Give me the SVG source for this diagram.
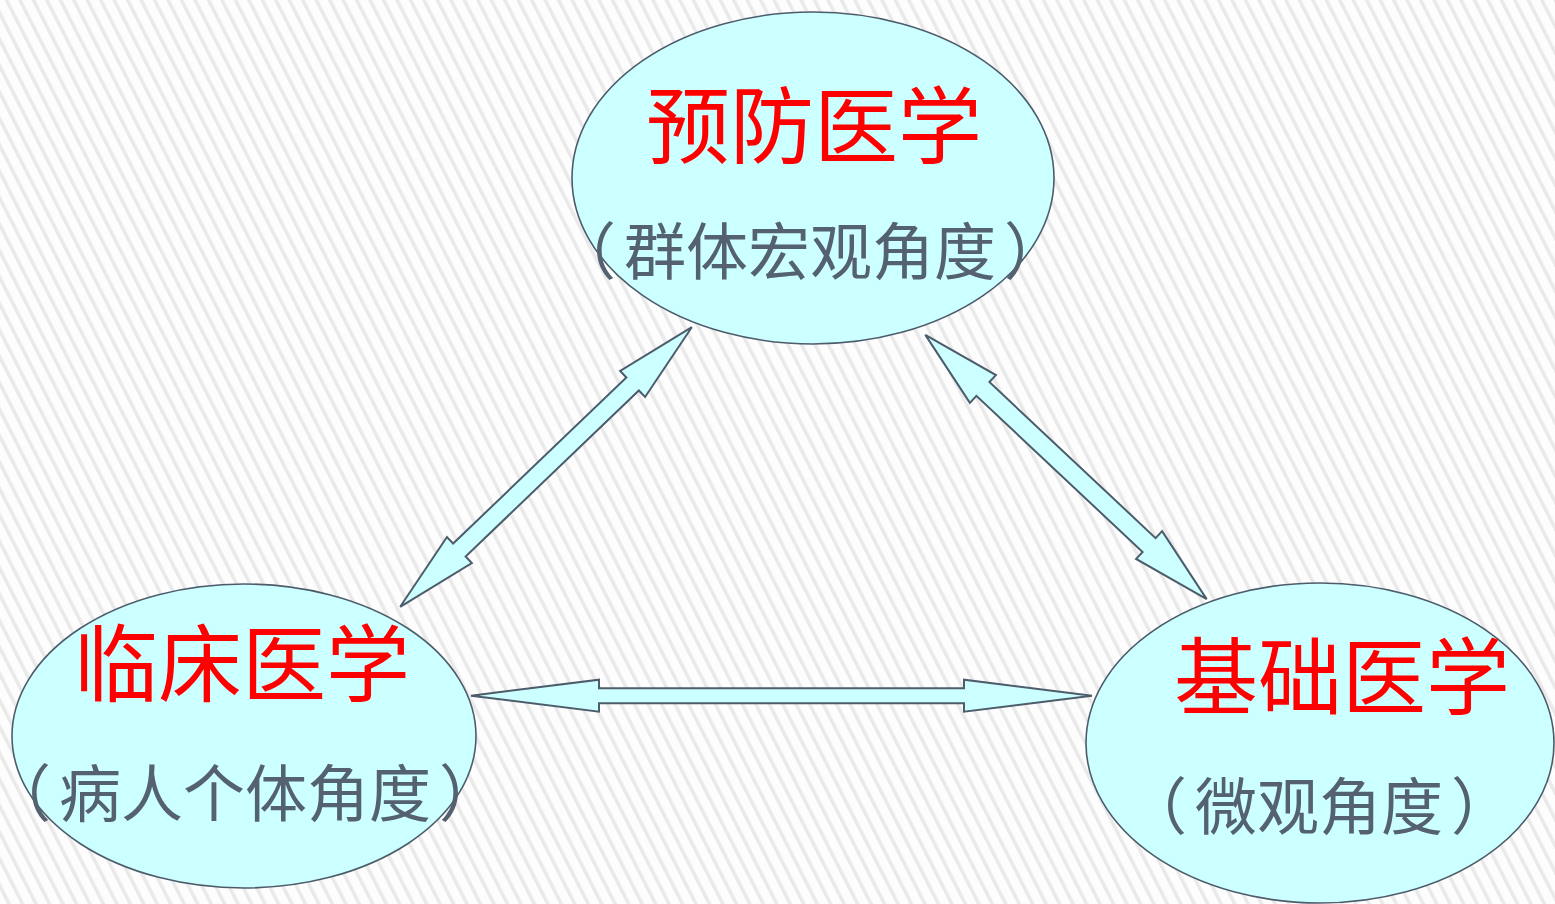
<svg xmlns="http://www.w3.org/2000/svg" width="1555" height="904" viewBox="0 0 1555 904">
  <defs>
    <pattern id="stripes" width="12" height="40" patternUnits="userSpaceOnUse" patternTransform="rotate(-27)">
      <rect width="12" height="40" fill="#fdfdfd"/>
      <rect x="4" y="0" width="3.5" height="40" fill="#e9e9e9"/>
    </pattern>
    <style>
      .node { fill: #ccffff; stroke: #4d5c6b; stroke-width: 1.6; }
      .arrow { fill: #ccffff; stroke: #4d5c6b; stroke-width: 2; stroke-linejoin: miter; }
      .title { font-family: "Liberation Serif", "Noto Sans CJK SC", serif; font-size: 84px; fill: #ff0000; text-anchor: middle; }
      .sub { font-family: "Liberation Serif", "Noto Sans CJK SC", serif; font-size: 62px; fill: #546170; text-anchor: middle; }
    </style>
  </defs>
  <rect x="0" y="0" width="1555" height="904" fill="url(#stripes)"/>

  <g id="connectors">
    <polygon class="arrow" transform="translate(546,467) rotate(-43.8)" points="-202,0 -120,-18 -120,-9 120,-9 120,-18 202,0 120,18 120,9 -120,9 -120,18"/>
    <polygon class="arrow" transform="translate(1066,467) rotate(43.2)" points="-193,0 -114,-19 -114,-9.5 114,-9.5 114,-19 193,0 114,19 114,9.5 -114,9.5 -114,19"/>
    <polygon class="arrow" transform="translate(781.5,695.7)" points="-310.5,0 -182.5,-16 -182.5,-7.5 182.5,-7.5 182.5,-16 310.5,0 182.5,16 182.5,7.5 -182.5,7.5 -182.5,16"/>
  </g>

  <g id="node-prevention">
    <ellipse class="node" cx="813" cy="178" rx="241" ry="166"/>
    <text class="title" x="814" y="157">预防医学</text>
    <text class="sub" x="810" y="275"><tspan>（</tspan><tspan dx="8">群体宏观角度</tspan><tspan dx="8">）</tspan></text>
  </g>

  <g id="node-clinical">
    <ellipse class="node" cx="244" cy="736" rx="232" ry="152"/>
    <text class="title" x="242" y="695">临床医学</text>
    <text class="sub" x="245" y="817"><tspan>（</tspan><tspan dx="8">病人个体角度</tspan><tspan dx="8">）</tspan></text>
  </g>

  <g id="node-basic">
    <ellipse class="node" cx="1320" cy="743" rx="234" ry="160"/>
    <text class="title" x="1342" y="708">基础医学</text>
    <text class="sub" x="1319" y="830"><tspan>（</tspan><tspan dx="8">微观角度</tspan><tspan dx="8">）</tspan></text>
  </g>
</svg>
